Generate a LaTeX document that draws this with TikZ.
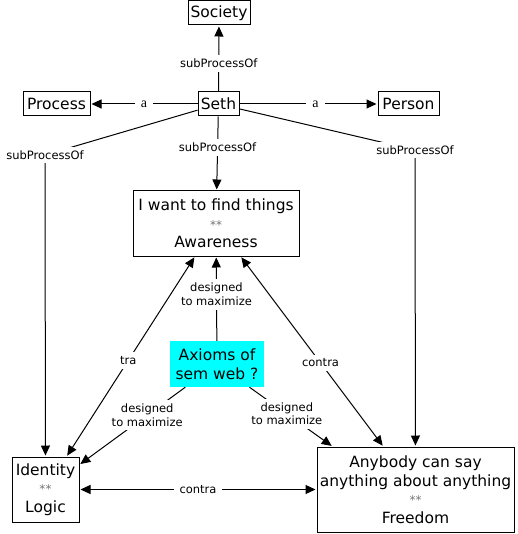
\documentclass[tikz,border=0pt]{standalone}
\usepackage{fontspec}
\setmainfont{DejaVu Sans}
\newfontfamily\serifa{Liberation Serif}
\usepackage{xcolor}
\usetikzlibrary{arrows.meta}
\definecolor{aqua}{RGB}{0,255,255}
\newcommand{\twostars}{{\fontsize{12}{12}\selectfont\color{black!55}**}}

\begin{document}
\begin{tikzpicture}[
  x=1pt, y=-1pt,
  font=\fontsize{15.5}{18.5}\selectfont,
  box/.style={draw, line width=1pt, align=center, inner sep=2pt},
  hilite/.style={fill=aqua, align=center, inner sep=2pt},
  arr/.style={-{Triangle[length=10pt,width=9pt]}, line width=1pt, shorten >=1pt},
  twoway/.style={{Triangle[length=10pt,width=9pt]}-{Triangle[length=10pt,width=9pt]},
                 line width=1pt, shorten >=1pt, shorten <=1pt},
  lbl/.style={font=\fontsize{11.5}{13.5}\selectfont, fill=white,
              inner xsep=6pt, inner ysep=4pt, align=center},
]
\useasboundingbox (0,0) rectangle (517,534);

% top row
\node[box, minimum width=62pt, minimum height=24pt] (society) at (219,13) {Society};
\node[box, minimum width=41pt, minimum height=24pt] (seth) at (218.5,104) {Seth};
\node[box, minimum width=67pt, minimum height=24pt] (process) at (56.5,104) {Process};
\node[box, minimum width=61pt, minimum height=24pt] (person) at (408.5,104) {Person};

% middle and bottom
\node[box, minimum width=166pt, minimum height=65pt] (aware) at (216,223.5)
  {I want to find things\\\twostars\\Awareness};
\node[hilite, minimum width=94pt, minimum height=46pt] (axioms) at (217,364)
  {Axioms of\\sem web ?};
\node[box, minimum width=67pt, minimum height=65pt] (identity) at (45.5,489.5)
  {Identity\\\twostars\\Logic};
\node[box, minimum width=197pt, minimum height=85pt] (freedom) at (415.5,489.5)
  {Anybody can say\\anything about anything\\\twostars\\Freedom};

\coordinate (lbend) at (45,155);
\coordinate (rbend) at (415,150);

\draw[arr] (seth) -- node[lbl, pos=0.43]{subProcessOf} (society);
\draw[arr] (seth) -- node[lbl, font=\serifa\fontsize{14}{14}\selectfont]{a} (process);
\draw[arr] (seth) -- node[lbl, pos=0.55, font=\serifa\fontsize{14}{14}\selectfont]{a} (person);
\draw[arr] (seth) -- node[lbl, pos=0.42]{subProcessOf} (aware);
\draw[arr] (seth) -- (lbend) node[lbl]{subProcessOf} -- (identity);
\draw[arr] (seth) -- (rbend) node[lbl]{subProcessOf} -- (freedom);

\draw[arr] (axioms) -- node[lbl, pos=0.55]{designed\\to maximize} (aware);
\draw[arr] (axioms) -- node[lbl, pos=0.36]{designed\\to maximize} (identity);
\draw[arr] (axioms) -- node[lbl, pos=0.45]{designed\\to maximize} ([xshift=16pt]freedom.north west);

\draw[twoway] (identity) -- node[lbl, pos=0.48]{tra} (aware);
\draw[twoway] (aware) -- node[lbl, pos=0.56]{contra} (freedom);
\draw[twoway] (identity) -- node[lbl]{contra} (freedom);
\end{tikzpicture}
\end{document}
